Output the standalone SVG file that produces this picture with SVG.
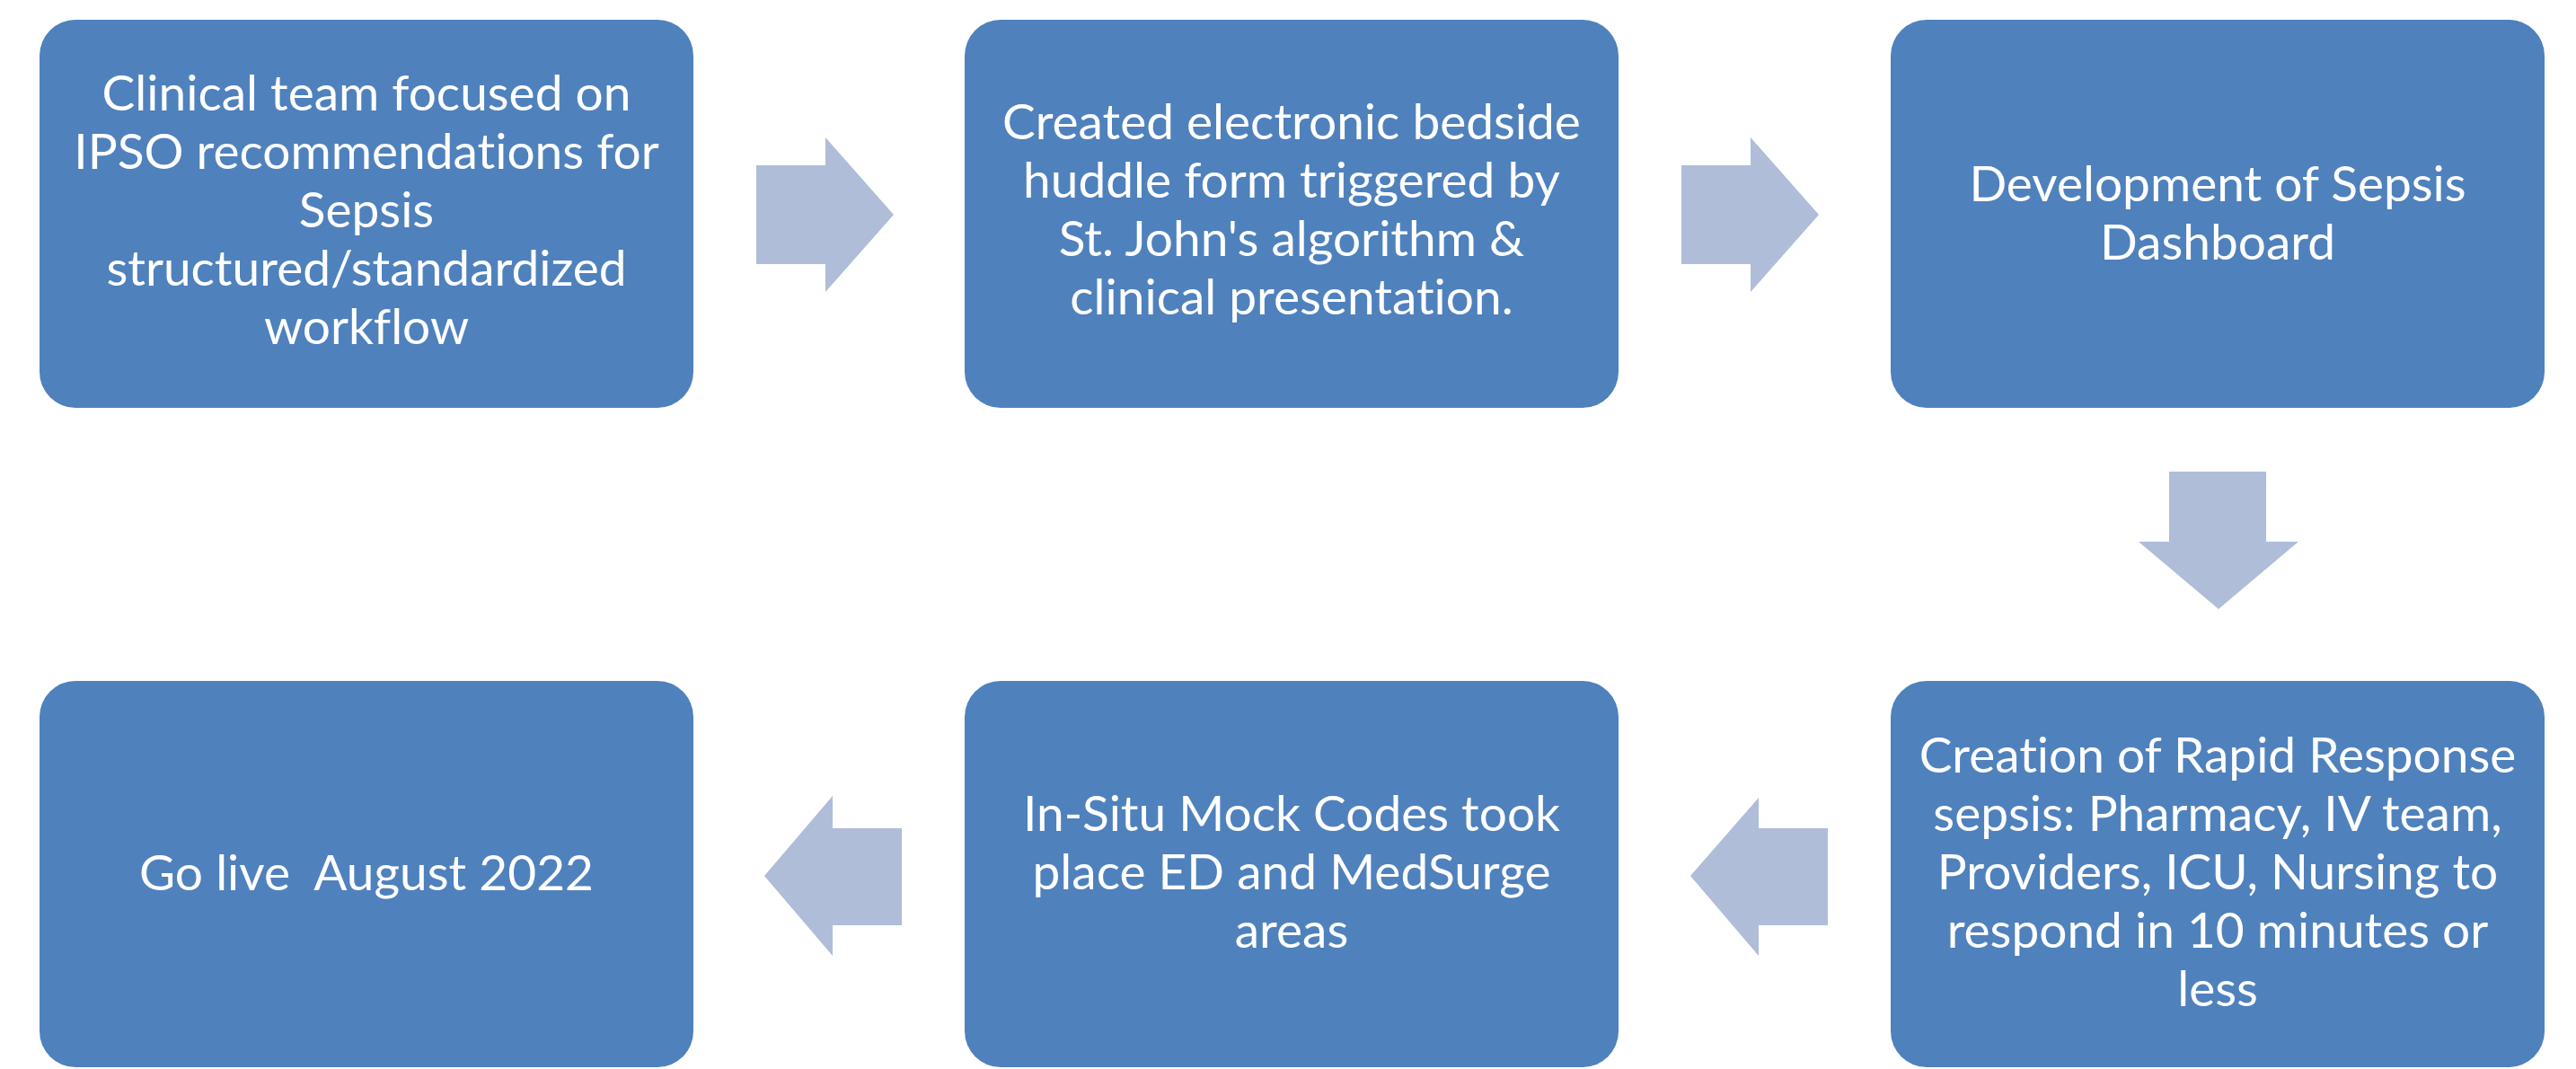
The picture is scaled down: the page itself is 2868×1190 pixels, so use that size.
<svg xmlns="http://www.w3.org/2000/svg" width="2868" height="1190" viewBox="0 0 2868 1190">
<style>
.box{fill:#4F81BD;}
.arr{fill:#AFBDD8;}
text{font-family:Lato,"Liberation Sans",sans-serif;font-size:55px;fill:#FFFFFF;text-anchor:middle;font-variant-ligatures:none;}
</style>
<rect width="2868" height="1190" fill="#FFFFFF"/>
<g id="connectors">
<polygon class="arr" points="842,184 919,184 919,153 995,239 919,325 919,294 842,294"/>
<polygon class="arr" points="1872,184 1949,184 1949,153 2025,239 1949,325 1949,294 1872,294"/>
<polygon class="arr" points="2415,525 2523,525 2523,603 2559,603 2470,678 2381,603 2415,603"/>
<polygon class="arr" points="2035,922 1958,922 1958,888 1882,975 1958,1064 1958,1030 2035,1030"/>
<polygon class="arr" points="1004,922 927,922 927,886 851,975 927,1064 927,1030 1004,1030"/>
</g>
<g id="node1">
<rect class="box" x="44" y="22" width="728" height="432" rx="40"/>
<text x="408" y="123">Clinical team focused on</text>
<text x="408" y="188">IPSO recommendations for</text>
<text x="408" y="253">Sepsis</text>
<text x="408" y="318">structured/standardized</text>
<text x="408" y="383">workflow</text>
</g>
<g id="node2">
<rect class="box" x="1074" y="22" width="728" height="432" rx="40"/>
<text x="1438" y="155">Created electronic bedside</text>
<text x="1438" y="220">huddle form triggered by</text>
<text x="1438" y="285">St. John's algorithm &amp;</text>
<text x="1438" y="350">clinical presentation.</text>
</g>
<g id="node3">
<rect class="box" x="2105" y="22" width="728" height="432" rx="40"/>
<text x="2469" y="224">Development of Sepsis</text>
<text x="2469" y="289">Dashboard</text>
</g>
<g id="node4">
<rect class="box" x="2105" y="758" width="728" height="430" rx="40"/>
<text x="2469" y="860">Creation of Rapid Response</text>
<text x="2469" y="925">sepsis: Pharmacy, IV team,</text>
<text x="2469" y="990">Providers, ICU, Nursing to</text>
<text x="2469" y="1055">respond in 10 minutes or</text>
<text x="2469" y="1120">less</text>
</g>
<g id="node5">
<rect class="box" x="1074" y="758" width="728" height="430" rx="40"/>
<text x="1438" y="925">In-Situ Mock Codes took</text>
<text x="1438" y="990">place ED and MedSurge</text>
<text x="1438" y="1055">areas</text>
</g>
<g id="node6">
<rect class="box" x="44" y="758" width="728" height="430" rx="40"/>
<text x="408" y="991" xml:space="preserve">Go live  August 2022</text>
</g>
</svg>
